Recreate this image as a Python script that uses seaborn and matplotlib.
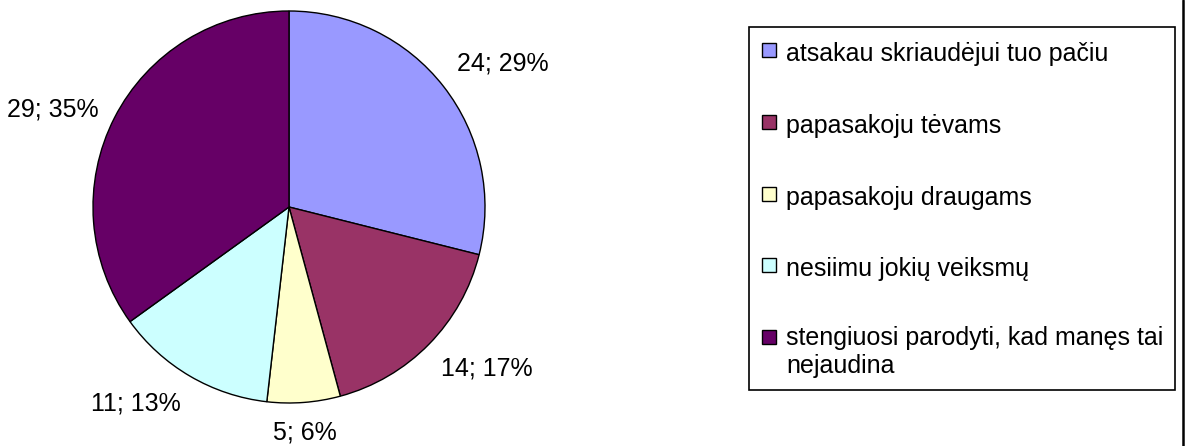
import numpy as np
import matplotlib
matplotlib.use("Agg")
import matplotlib.pyplot as plt
import seaborn as sns
from matplotlib.lines import Line2D

# data
categories = ["atsakau skriaudėjui tuo pačiu",
              "papasakoju tėvams",
              "papasakoju draugams",
              "nesiimu jokių veiksmų",
              "stengiuosi parodyti, kad manęs tai\nnejaudina"]
counts = [24, 14, 5, 11, 29]
colors = ["#9999FF", "#993366", "#FFFFCC", "#CCFFFF", "#660066"]

sns.set_style("white")
plt.rcParams["font.family"] = ["Liberation Sans", "DejaVu Sans"]
plt.rcParams["text.color"] = "black"

W, H = 1189, 446
fs = 18
fig = plt.figure(figsize=(W / 100, H / 100), dpi=100)

# pie axes (pixel box -> figure fraction)
cx, cy, r = 289, 207, 196
ax = fig.add_axes([(cx - r) / W, 1 - (cy + r) / H, 2 * r / W, 2 * r / H])

total = sum(counts)
labels = [f"{v}; {round(v / total * 100)}%" for v in counts]

wedges, texts = ax.pie(counts, labels=labels, colors=colors, startangle=90,
                       counterclock=False, labeldistance=1.09,
                       wedgeprops=dict(edgecolor="black", linewidth=1.0),
                       textprops=dict(fontsize=fs, color="black"))

# excel-like label anchoring
for w, t in zip(wedges, texts):
    ang = np.deg2rad((w.theta1 + w.theta2) / 2)
    c, s = np.cos(ang), np.sin(ang)
    t.set_ha("left" if c > 0.3 else ("right" if c < -0.3 else "center"))
    t.set_va("bottom" if s > 0.5 else ("top" if s < -0.5 else "center"))
    t.set_clip_on(False)

ax.set_xlim(-1, 1)
ax.set_ylim(-1, 1)
ax.set_aspect("equal")
ax.axis("off")

handles = [Line2D([], [], marker="s", linestyle="none", markersize=10,
                  markerfacecolor=col, markeredgecolor="black", markeredgewidth=1.0)
           for col in colors]
leg = fig.legend(handles, categories, loc="upper left",
                 bbox_to_anchor=(749 / W, 1 - 27 / H), borderaxespad=0,
                 fontsize=fs, frameon=True, fancybox=False, edgecolor="black",
                 framealpha=1, handlelength=0.6, handleheight=1.3,
                 handletextpad=0.4, labelspacing=1.78, borderpad=0.48)
leg.get_frame().set_linewidth(1.2)

# keep marker on the first line of the wrapped entry
rows = leg._legend_handle_box.get_children()[0].get_children()
rows[-1].align = "top"

# right border line of the chart area
fig.add_artist(Line2D([1183 / W, 1183 / W], [0, 1], color="black", linewidth=1.8,
                      transform=fig.transFigure))

fig.savefig("out.png", dpi=100, facecolor="white")
